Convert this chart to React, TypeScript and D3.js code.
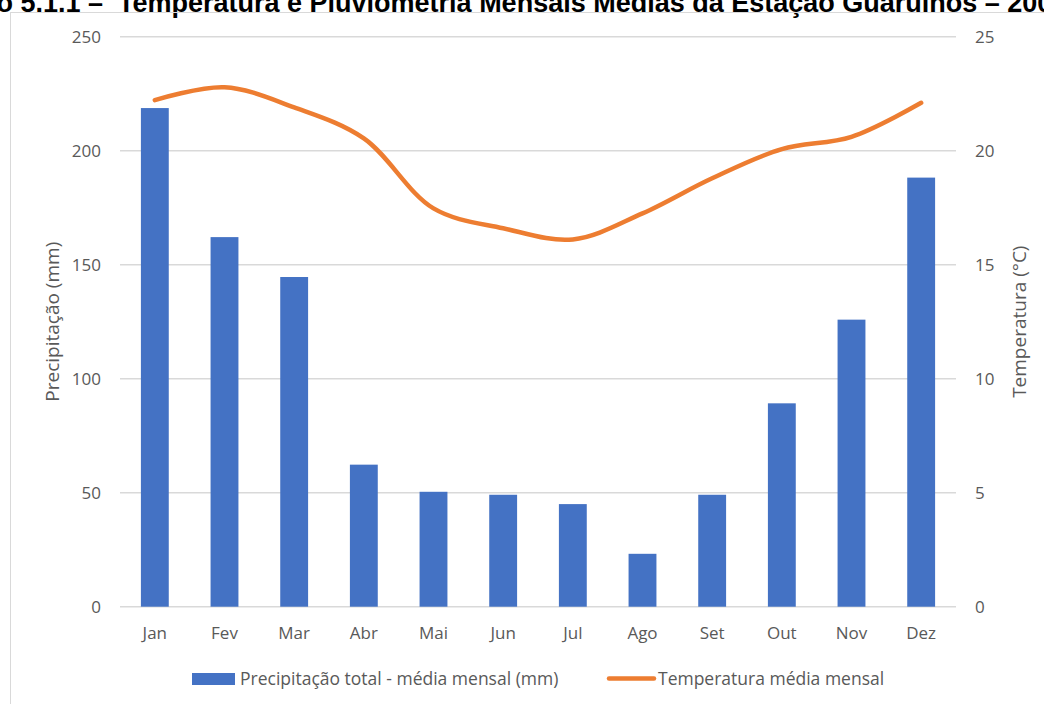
import React from "react";
import * as d3 from "d3";

// Monthly averages for the Guarulhos station
const months = ["Jan", "Fev", "Mar", "Abr", "Mai", "Jun", "Jul", "Ago", "Set", "Out", "Nov", "Dez"];
const precipitation = [218.7, 162.1, 144.6, 62.3, 50.4, 49.1, 45.0, 23.2, 49.1, 89.2, 125.9, 188.2];
const temperature = [22.22, 22.78, 21.9, 20.54, 17.47, 16.6, 16.11, 17.25, 18.79, 20.07, 20.61, 22.1];
const precipTicks = [0, 50, 100, 150, 200, 250];
const tempTicks = [0, 5, 10, 15, 20, 25];

const TITLE_PREFIX = "Gráfico 5.1.1 –";
const TITLE_MAIN = "Temperatura e Pluviometria Mensais Médias da Estação Guarulhos – 2002";
const LEGEND_BARS = "Precipitação total - média mensal (mm)";
const LEGEND_LINE = "Temperatura média mensal";

const W = 1044;
const H = 704;
const plot = { left: 120, right: 956, top: 36.7, bottom: 606.7 };
const FONT = "'Open Sans', 'Noto Sans', sans-serif";
const TEXT_GREY = "#595959";
const BLUE = "#4472C4";
const ORANGE = "#ED7D31";
const GRID = "#D9D9D9";

export default function App() {
  const x = d3.scaleBand<string>().domain(months).range([plot.left, plot.right]).paddingInner(0).paddingOuter(0);
  const yP = d3.scaleLinear().domain([0, 250]).range([plot.bottom, plot.top]);
  const yT = d3.scaleLinear().domain([0, 25]).range([plot.bottom, plot.top]);
  const barW = x.bandwidth() / 2.5;
  const cx = (m: string) => (x(m) as number) + x.bandwidth() / 2;

  const line = d3
    .line<number>()
    .x((_, i) => cx(months[i]))
    .y((d) => yT(d))
    .curve(d3.curveCatmullRom.alpha(0.5));

  const midY = (plot.top + plot.bottom) / 2;

  return (
    <svg
      width={W}
      height={H}
      viewBox={`0 0 ${W} ${H}`}
      style={{ position: "absolute", left: 0, top: 0, background: "#fff" }}
    >
      <rect x={0} y={0} width={W} height={H} fill="#fff" />

      {/* Caption above the frame */}
      <text x={103} y={11.5} textAnchor="end" fontFamily="'Liberation Sans', Arial, sans-serif" fontWeight="bold" fontSize={27} fill="#000">
        {TITLE_PREFIX}
      </text>
      <text x={118} y={11.5} fontFamily="'Liberation Sans', Arial, sans-serif" fontWeight="bold" fontSize={27} fill="#000">
        {TITLE_MAIN}
      </text>

      {/* Chart frame */}
      <rect x={10.5} y={12.5} width={1100} height={800} fill="none" stroke={GRID} strokeWidth={1} />

      {/* Gridlines */}
      {precipTicks.map((t) => (
        <line key={`g${t}`} x1={plot.left} x2={plot.right} y1={yP(t)} y2={yP(t)} stroke={GRID} strokeWidth={1.4} />
      ))}

      {/* Left axis labels */}
      {precipTicks.map((t) => (
        <text key={`l${t}`} x={101} y={yP(t)} dy="0.35em" textAnchor="end" fontFamily={FONT} fontSize={17} fill={TEXT_GREY}>
          {t}
        </text>
      ))}

      {/* Right axis labels */}
      {tempTicks.map((t) => (
        <text key={`r${t}`} x={975} y={yT(t)} dy="0.35em" textAnchor="start" fontFamily={FONT} fontSize={17} fill={TEXT_GREY}>
          {t}
        </text>
      ))}

      {/* Bars */}
      {precipitation.map((v, i) => (
        <rect
          key={`b${i}`}
          x={cx(months[i]) - barW / 2}
          y={yP(v)}
          width={barW}
          height={yP(0) - yP(v)}
          fill={BLUE}
        />
      ))}

      {/* Temperature line */}
      <path d={line(temperature) ?? ""} fill="none" stroke={ORANGE} strokeWidth={4.5} strokeLinecap="round" strokeLinejoin="round" />

      {/* Month labels */}
      {months.map((m) => (
        <text key={`m${m}`} x={cx(m)} y={633} dy="0.35em" textAnchor="middle" fontFamily={FONT} fontSize={17} fill={TEXT_GREY}>
          {m}
        </text>
      ))}

      {/* Axis titles */}
      <text
        transform={`translate(52, ${midY}) rotate(-90)`}
        textAnchor="middle"
        dy="0.35em"
        fontFamily={FONT}
        fontSize={19}
        fill={TEXT_GREY}
      >
        Precipitação (mm)
      </text>
      <text
        transform={`translate(1019, ${midY}) rotate(-90)`}
        textAnchor="middle"
        dy="0.35em"
        fontFamily={FONT}
        fontSize={19}
        fill={TEXT_GREY}
      >
        Temperatura (°C)
      </text>

      {/* Legend */}
      <rect x={192} y={673} width={43} height={12} fill={BLUE} />
      <text x={240} y={679} dy="0.35em" fontFamily={FONT} fontSize={17.5} fill={TEXT_GREY}>
        {LEGEND_BARS}
      </text>
      <line x1={609} x2={654} y1={678.5} y2={678.5} stroke={ORANGE} strokeWidth={4.5} strokeLinecap="round" />
      <text x={658} y={679} dy="0.35em" fontFamily={FONT} fontSize={17.5} fill={TEXT_GREY}>
        {LEGEND_LINE}
      </text>
    </svg>
  );
}
